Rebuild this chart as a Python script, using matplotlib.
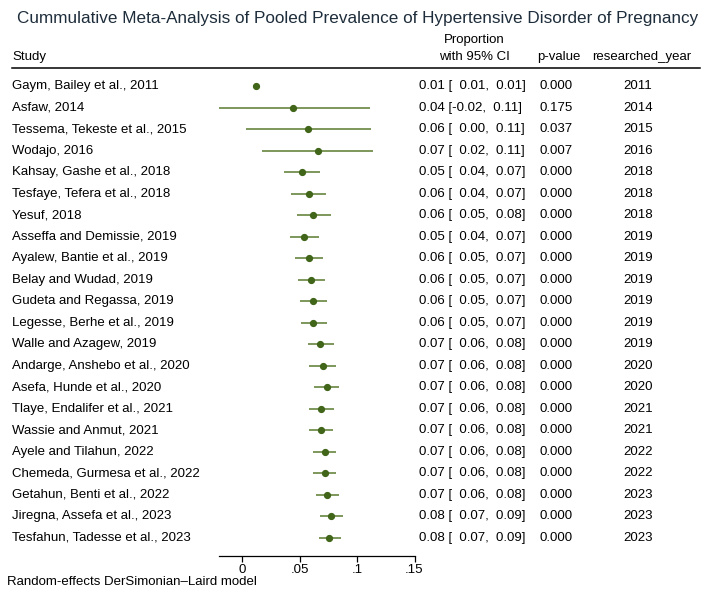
import matplotlib.pyplot as plt
import matplotlib.transforms as mtransforms

plt.rcParams['font.family'] = ['Liberation Sans', 'DejaVu Sans']

# data
studies = ['Gaym, Bailey et al., 2011', 'Asfaw, 2014', 'Tessema, Tekeste et al., 2015',
           'Wodajo, 2016', 'Kahsay, Gashe et al., 2018', 'Tesfaye, Tefera et al., 2018',
           'Yesuf, 2018', 'Asseffa and Demissie, 2019', 'Ayalew, Bantie et al., 2019',
           'Belay and Wudad, 2019', 'Gudeta and Regassa, 2019', 'Legesse, Berhe et al., 2019',
           'Walle and Azagew, 2019', 'Andarge, Anshebo et al., 2020', 'Asefa, Hunde et al., 2020',
           'Tlaye, Endalifer et al., 2021', 'Wassie and Anmut, 2021', 'Ayele and Tilahun, 2022',
           'Chemeda, Gurmesa et al., 2022', 'Getahun, Benti et al., 2022',
           'Jiregna, Assefa et al., 2023', 'Tesfahun, Tadesse et al., 2023']
es = [0.012, 0.044, 0.057, 0.066, 0.052, 0.058, 0.062, 0.054, 0.058, 0.060, 0.062,
      0.062, 0.068, 0.070, 0.074, 0.069, 0.069, 0.072, 0.072, 0.0736, 0.077, 0.076]
lo = [0.010, -0.020, 0.0035, 0.017, 0.0365, 0.043, 0.048, 0.042, 0.046, 0.049, 0.0507,
      0.051, 0.0577, 0.0585, 0.0629, 0.0585, 0.0585, 0.062, 0.062, 0.064, 0.0675, 0.0667]
hi = [0.014, 0.111, 0.112, 0.1136, 0.068, 0.073, 0.077, 0.067, 0.070, 0.072, 0.0742,
      0.074, 0.080, 0.0817, 0.084, 0.080, 0.079, 0.082, 0.082, 0.084, 0.088, 0.086]
pvals = ['0.000', '0.175', '0.037', '0.007', '0.000', '0.000', '0.000', '0.000', '0.000',
         '0.000', '0.000', '0.000', '0.000', '0.000', '0.000', '0.000', '0.000', '0.000',
         '0.000', '0.000', '0.000', '0.000']
years = [2011, 2014, 2015, 2016, 2018, 2018, 2018, 2019, 2019, 2019, 2019, 2019, 2019,
         2020, 2020, 2021, 2021, 2022, 2022, 2023, 2023, 2023]
xticks = [0, 0.05, 0.1, 0.15]
xticklabels = ['0', '.05', '.1', '.15']

W, H = 709, 604
fig = plt.figure(figsize=(W / 100, H / 100), dpi=100)

# plot panel (pixel placement)
left, right, top, bottom = 200, 420, 70, 556
ax = fig.add_axes([left / W, 1 - bottom / H, (right - left) / W, (bottom - top) / H])
x0 = 242
ppu = 1150.0  # pixels per unit of proportion
ax.set_xlim((left - x0) / ppu, (right - x0) / ppu)
row0, step = 86, 21.52
ax.set_ylim((bottom - row0) / step, (top - row0) / step)

line_col = '#5a7b2e'
dot_col = '#41661a'
rows = list(range(len(studies)))
ax.hlines(rows, lo, hi, color=line_col, lw=1.1)
ax.plot(es, rows, 'o', color=dot_col, ms=4.2, mec=dot_col)

for s in ['top', 'right', 'left']:
    ax.spines[s].set_visible(False)
ax.spines['bottom'].set_bounds(-0.02, 0.15)
ax.spines['bottom'].set_linewidth(0.9)
ax.set_yticks([])
ax.set_xticks(xticks)
ax.set_xticklabels(xticklabels, fontsize=9.5)
ax.tick_params(axis='x', length=4, width=0.9, pad=2)

# table columns
tr = mtransforms.blended_transform_factory(fig.transFigure, ax.transData)
fs = 9.5
for i in rows:
    ax.text(12 / W, i, studies[i], transform=tr, fontsize=fs, va='center', ha='left')
    lo_s = f'{lo[i]:.2f}' if lo[i] < 0 else '  ' + f'{lo[i]:.2f}'
    ci = f'{es[i]:.2f} [{lo_s},  {hi[i]:.2f}]'
    ax.text(419 / W, i, ci, transform=tr, fontsize=fs, va='center', ha='left')
    ax.text(539 / W, i, pvals[i], transform=tr, fontsize=fs, va='center', ha='left')
    ax.text(638 / W, i, str(years[i]), transform=tr, fontsize=fs, va='center', ha='center')

# headers
fig.text(358 / W, 1 - 19 / H, 'Cummulative Meta-Analysis of Pooled Prevalence of Hypertensive Disorder of Pregnancy',
         fontsize=12.3, ha='center', va='center', color='#1e2d3b')
fig.text(12 / W, 1 - 57 / H, 'Study', fontsize=fs, ha='left', va='center')
fig.text(474 / W, 1 - 40 / H, 'Proportion', fontsize=fs, ha='center', va='center')
fig.text(474 / W, 1 - 57 / H, 'with 95% CI', fontsize=fs, ha='center', va='center')
fig.text(537 / W, 1 - 57 / H, 'p-value', fontsize=fs, ha='left', va='center')
fig.text(642 / W, 1 - 57 / H, 'researched_year', fontsize=fs, ha='center', va='center')
fig.add_artist(plt.Line2D([12 / W, 700 / W], [1 - 68 / H, 1 - 68 / H], color='black', lw=1.1))

fig.text(7 / W, 1 - 582 / H, 'Random-effects DerSimonian\u2013Laird model', fontsize=fs,
         ha='left', va='center')

fig.savefig('out.png', dpi=100)
